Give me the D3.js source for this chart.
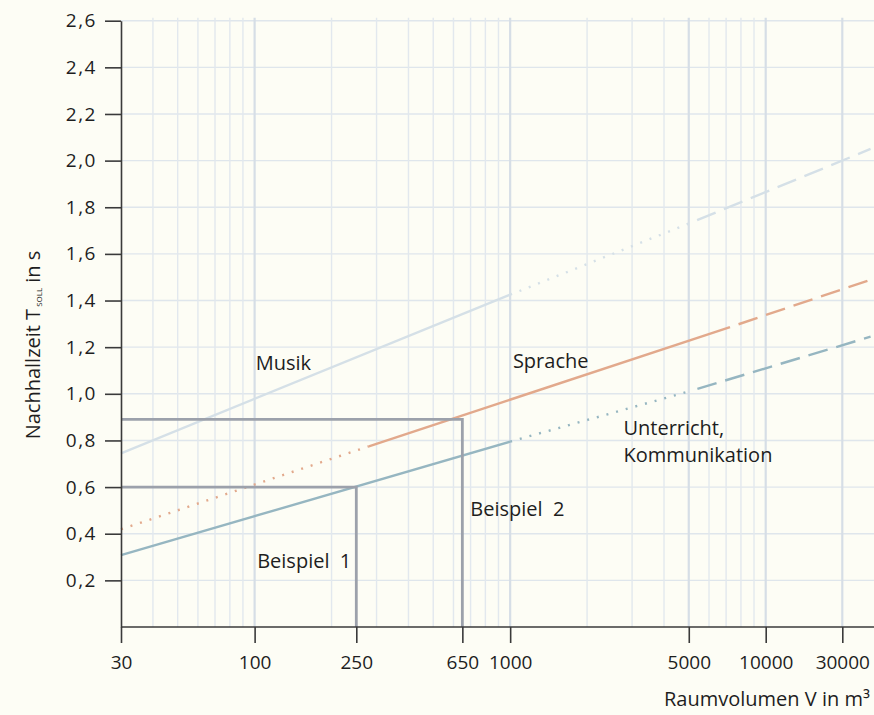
<!DOCTYPE html>
<html>
<head>
<meta charset="utf-8">
<script src="https://cdn.jsdelivr.net/npm/d3@7"></script>
<style>
  body { margin: 0; background: #fdfdf5; }
  svg { display: block; font-family: "Open Sans", sans-serif; }
</style>
</head>
<body>
<div id="chart"></div>
<script>
// values
const xTicks = [30, 100, 250, 650, 1000, 5000, 10000, 30000];
const xGrid = [40, 50, 60, 70, 80, 90, 100, 200, 300, 400, 500, 600, 700, 800, 900,
  1000, 2000, 3000, 4000, 5000, 6000, 7000, 8000, 9000, 10000, 30000];
const yTicks = [0.2, 0.4, 0.6, 0.8, 1.0, 1.2, 1.4, 1.6, 1.8, 2.0, 2.2, 2.4, 2.6];

// each series: breakpoints (V in m³, T in s) and style of each piece
const musikV = [30, 1000, 5000, 45000];
const musikT = [0.745, 1.425, 1.73, 2.05];
const musikStyle = ["solid", "dotted", "dashed"];

const spracheV = [30, 280, 7250, 45000];
const spracheT = [0.419, 0.775, 1.286, 1.489];
const spracheStyle = ["dotted", "solid", "dashed"];

const unterrichtV = [30, 1000, 5000, 45000];
const unterrichtT = [0.308, 0.795, 1.01, 1.245];
const unterrichtStyle = ["solid", "dotted", "dashed"];

// worked examples
const beispielV = [250, 650];
const beispielT = [0.6, 0.89];

(function chart(){
  let width = 874,
  height = 715,
  margin = ({ top: 20.7, right: 0, bottom: 88, left: 121 });

  const svg = d3.select("#chart")
    .append("svg")
    .attr("width", width)
    .attr("height", height)
    .attr("viewBox", [0, 0, width, height]);

  svg.append("rect").attr("width", width).attr("height", height).attr("fill", "#fdfdf5");

  // the printed axis is squeezed after 10000, so the log scale is piecewise
  let x = d3.scaleLog()
    .domain([30, 10000, 30000])
    .range([margin.left, 765.7, 842.3]);

  let y = d3.scaleLinear()
    .domain([0, 2.6])
    .range([height - margin.bottom, margin.top]);

  const bottom = y(0);

  // grid
  svg.append("g")
    .selectAll("line")
    .data(yTicks)
    .join("line")
    .attr("x1", margin.left).attr("x2", width)
    .attr("y1", d => y(d)).attr("y2", d => y(d))
    .attr("stroke", "#dfe6ec")
    .attr("stroke-width", 1.4);

  svg.append("g")
    .selectAll("line")
    .data(xGrid)
    .join("line")
    .attr("x1", d => x(d)).attr("x2", d => x(d))
    .attr("y1", margin.top - 3).attr("y2", bottom)
    .attr("stroke", d => xTicks.includes(d) ? "#d6dee6" : "#e2e8ee")
    .attr("stroke-width", d => xTicks.includes(d) ? 2.2 : 1.4);

  // curves
  const line = d3.line().x(d => x(d[0])).y(d => y(d[1]));
  const dash = { solid: null, dotted: "2 8", dashed: "20 9" };

  function curve(vs, ts, styles, color) {
    const g = svg.append("g");
    styles.forEach((s, i) => {
      g.append("path")
        .attr("d", line([[vs[i], ts[i]], [vs[i + 1], ts[i + 1]]]))
        .attr("fill", "none")
        .attr("stroke", color)
        .attr("stroke-width", 2.4)
        .attr("stroke-dasharray", dash[s])
        // dashed pieces open with a gap, like the print
        .attr("stroke-dashoffset", s == "dashed" ? 20 : 0);
    });
  }
  curve(musikV, musikT, musikStyle, "#d5e0e7");
  curve(spracheV, spracheT, spracheStyle, "#e2a98c");
  curve(unterrichtV, unterrichtT, unterrichtStyle, "#96b6c1");

  // example lines
  beispielV.forEach((v, i) => {
    svg.append("path")
      .attr("d", d3.line()([[x(30), y(beispielT[i])], [x(v), y(beispielT[i])], [x(v), bottom]]))
      .attr("fill", "none")
      .attr("stroke", "#9ca1ab")
      .attr("stroke-width", 2.8);
  });

  // axes
  const yAxis = svg.append("g")
    .attr("transform", `translate(${margin.left},0)`)
    .call(d3.axisLeft(y)
      .tickValues(yTicks)
      .tickSize(16)
      .tickSizeOuter(0)
      .tickPadding(8)
      .tickFormat(d => d.toFixed(1).replace(".", ",")));
  yAxis.select(".domain").attr("stroke", "#3a3a3a").attr("stroke-width", 1.6);
  yAxis.selectAll(".tick line").attr("stroke", "#3a3a3a").attr("stroke-width", 1.6);
  yAxis.selectAll(".tick text")
    .attr("fill", "#1e1e1e")
    .style("font-size", "19px")
    .style("letter-spacing", "1.5px")
    .style("font-family", "Open Sans");

  const xAxis = svg.append("g")
    .attr("transform", `translate(0,${bottom})`)
    .call(d3.axisBottom(x)
      .tickValues(xTicks)
      .tickSize(16)
      .tickSizeOuter(0)
      .tickPadding(13)
      .tickFormat(d3.format("d")));
  xAxis.select(".domain").remove();
  xAxis.selectAll(".tick line").attr("stroke", "#3a3a3a").attr("stroke-width", 1.6);
  xAxis.selectAll(".tick text")
    .attr("fill", "#1e1e1e")
    .style("font-size", "19px")
    .style("font-family", "Open Sans");

  svg.append("line")
    .attr("x1", margin.left).attr("x2", width)
    .attr("y1", bottom).attr("y2", bottom)
    .attr("stroke", "#3a3a3a").attr("stroke-width", 1.6);

  // axis titles
  const yl = svg.append("text")
    .attr("transform", "translate(40,345) rotate(-90)")
    .attr("text-anchor", "middle")
    .attr("fill", "#1e1e1e")
    .style("font-size", "20px");
  yl.append("tspan").text("Nachhallzeit T");
  yl.append("tspan").text("SOLL").style("font-size", "8px").attr("dy", 2).attr("dx", 2);
  yl.append("tspan").text(" in s").attr("dy", -2);

  svg.append("text")
    .attr("x", 664).attr("y", 706)
    .attr("fill", "#1e1e1e")
    .style("font-size", "20px")
    .text("Raumvolumen V in m³");

  // series labels
  const label = (v, t, txt, anchor) => svg.append("text")
    .attr("x", x(v)).attr("y", y(t))
    .attr("text-anchor", anchor || "start")
    .attr("fill", "#1e1e1e")
    .style("font-size", "20px")
    .style("white-space", "pre")
    .text(txt);

  label(101, 1.103, "Musik");
  label(1025, 1.11, "Sprache");
  label(2775, 0.824, "Unterricht,");
  label(2775, 0.709, "Kommunikation");
  label(250, 0.252, "Beispiel\u00a0\u00a01").attr("dx", -5).attr("text-anchor", "end");
  label(650, 0.474, "Beispiel\u00a0\u00a02").attr("dx", 8);
})();
</script>
</body>
</html>
